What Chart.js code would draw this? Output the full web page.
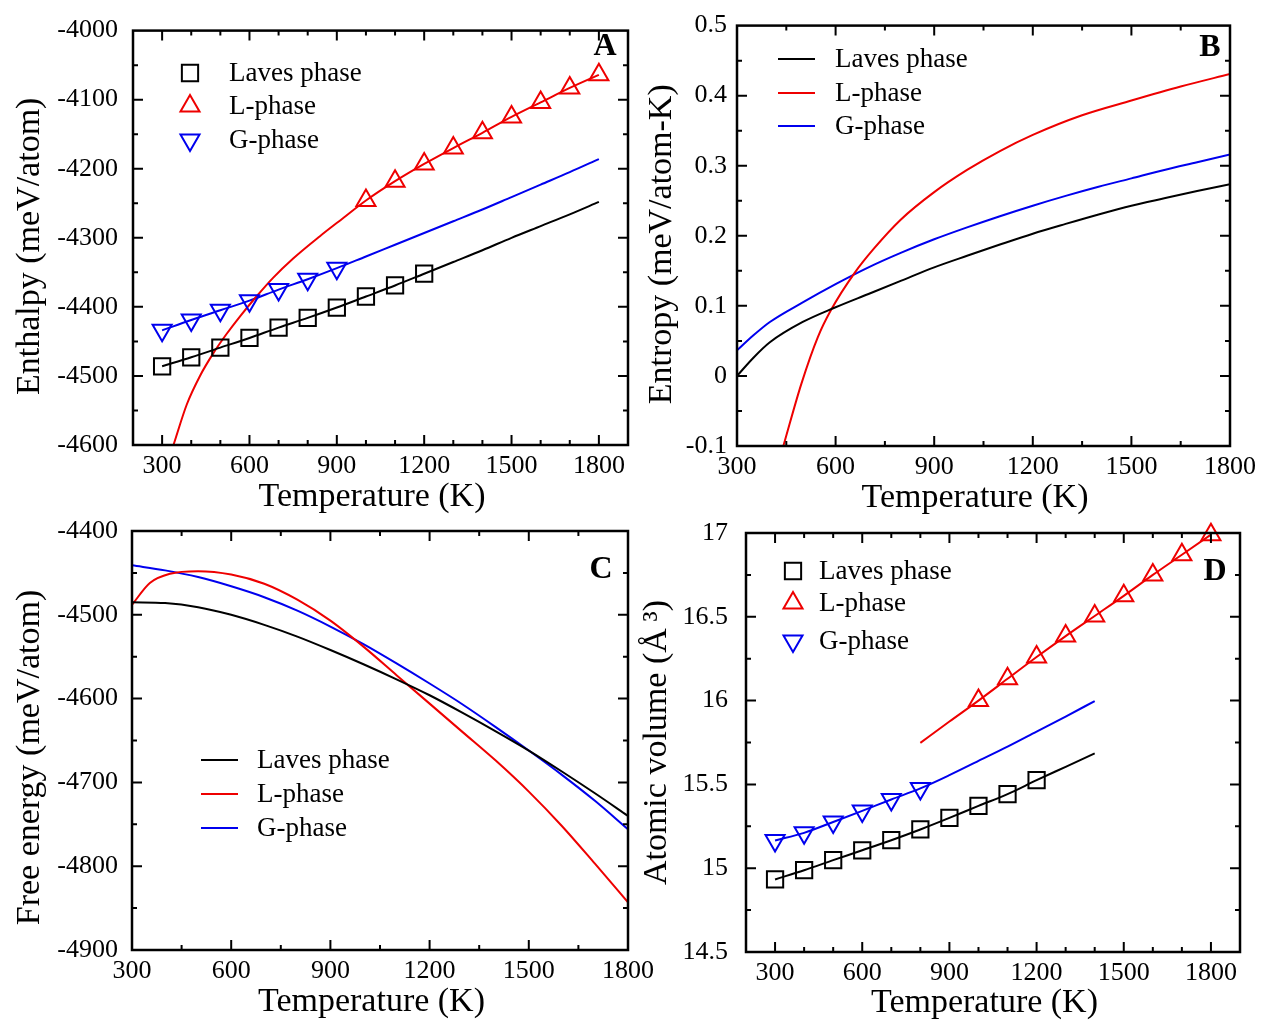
<!DOCTYPE html>
<html>
<head>
<meta charset="utf-8">
<title>Laves / L-phase / G-phase thermodynamics</title>
<script src="https://cdn.jsdelivr.net/npm/chart.js@4.4.1/dist/chart.umd.min.js"></script>
<style>
  body { margin: 0; background: #fff; }
  .panel { position: absolute; left: 0; top: 0; width: 1262px; height: 1023px; }
</style>
</head>
<body>
<div class="panel"><canvas id="chartA"></canvas></div>
<div class="panel"><canvas id="chartB"></canvas></div>
<div class="panel"><canvas id="chartC"></canvas></div>
<div class="panel"><canvas id="chartD"></canvas></div>
<script>
// ---- data ----
const tempsFull = [300, 400, 500, 600, 700, 800, 900, 1000, 1100, 1200, 1300, 1400, 1500, 1600, 1700, 1800];

// A: enthalpy (meV/atom)
const tA_lavesMark = [300, 400, 500, 600, 700, 800, 900, 1000, 1100, 1200];
const hA_lavesMark = [-4486, -4473, -4459, -4445, -4430, -4416, -4401, -4385, -4369, -4352];
const hA_lavesFit = [-4486, -4473, -4459, -4445, -4430, -4416, -4401, -4385, -4369, -4352, -4335, -4318, -4300, -4283, -4266, -4248];
const tA_lMark = [1000, 1100, 1200, 1300, 1400, 1500, 1600, 1700, 1800];
const hA_lMark = [-4246, -4218, -4193, -4170, -4148, -4125, -4104, -4083, -4064];
const tA_lFit = [339, 385, 430, 476, 520, 567, 624, 681, 750, 841, 920, 1000, 1100, 1200, 1300, 1400, 1500, 1600, 1700, 1800];
const hA_lFit = [-4600, -4541, -4500, -4467, -4440, -4414, -4385, -4358, -4330, -4298, -4272, -4246, -4218, -4193, -4170, -4148, -4125, -4104, -4083, -4064];
const tA_gMark = [300, 400, 500, 600, 700, 800, 900];
const hA_gMark = [-4434, -4419, -4405, -4391, -4375, -4360, -4344];
const hA_gFit = [-4434, -4419, -4405, -4391, -4375, -4360, -4344, -4327, -4310, -4293, -4276, -4259, -4241, -4223, -4205, -4186];

// B: entropy (meV/atom-K)
const tB_solid = [300, 350, 400, 500, 600, 700, 800, 900, 1000, 1100, 1200, 1300, 1400, 1500, 1600, 1700, 1800];
const sB_laves = [0.0, 0.026, 0.048, 0.077, 0.098, 0.117, 0.136, 0.155, 0.1715, 0.1875, 0.203, 0.217, 0.2305, 0.243, 0.2535, 0.2638, 0.2735];
const sB_g = [0.0365, 0.058, 0.077, 0.105, 0.131, 0.155, 0.176, 0.195, 0.212, 0.228, 0.243, 0.257, 0.270, 0.282, 0.294, 0.305, 0.316];
const tB_l = [441, 496, 546, 586, 659, 717, 798, 899, 1000, 1100, 1200, 1350, 1500, 1650, 1800];
const sB_l = [-0.1, -0.011, 0.0554, 0.094, 0.1478, 0.182, 0.223, 0.262, 0.294, 0.321, 0.344, 0.372, 0.393, 0.413, 0.431];

// C: free energy (meV/atom)
const gC_laves = [-4485, -4486, -4491, -4500, -4512, -4526, -4542, -4559, -4577, -4596, -4617, -4639, -4662, -4687, -4713, -4740];
const gC_g = [-4441, -4447, -4455, -4466, -4479, -4495, -4514, -4535, -4558, -4582, -4607, -4634, -4662, -4691, -4722, -4756];
const tC_l = [300, 354, 415, 500, 600, 700, 800, 900, 1000, 1100, 1200, 1300, 1400, 1500, 1600, 1700, 1800];
const gC_l = [-4488, -4462, -4451, -4448, -4452, -4463, -4482, -4507, -4538, -4572, -4606, -4640, -4674, -4711, -4752, -4797, -4843];

// D: atomic volume (A^3)
const tD_lavesMark = [300, 400, 500, 600, 700, 800, 900, 1000, 1100, 1200];
const vD_lavesMark = [14.933, 14.988, 15.048, 15.107, 15.167, 15.231, 15.30, 15.372, 15.442, 15.525];
const tD_solidFit = [300, 400, 500, 600, 700, 800, 900, 1000, 1100, 1200, 1300, 1400];
const vD_lavesFit = [14.933, 14.988, 15.048, 15.107, 15.167, 15.231, 15.30, 15.372, 15.442, 15.525, 15.605, 15.685];
const tD_gMark = [300, 400, 500, 600, 700, 800];
const vD_gMark = [15.165, 15.211, 15.276, 15.342, 15.41, 15.476];
const vD_gFit = [15.165, 15.211, 15.276, 15.342, 15.41, 15.476, 15.555, 15.64, 15.725, 15.815, 15.905, 15.997];
const tD_lMark = [1000, 1100, 1200, 1300, 1400, 1500, 1600, 1700, 1800];
const vD_lMark = [16.0, 16.13, 16.26, 16.385, 16.505, 16.625, 16.75, 16.87, 16.99];
const tD_lFit = [800, 900, 1000, 1100, 1200, 1300, 1400, 1500, 1600, 1700, 1800];
const vD_lFit = [15.748, 15.875, 16.0, 16.13, 16.26, 16.385, 16.505, 16.625, 16.75, 16.87, 16.99];

const phaseNames = ["Laves phase", "L-phase", "G-phase"];
const BLACK = "#000000";
const RED = "#ee0000";
const BLUE = "#0000ee";
const SERIF = "'Liberation Serif', 'Times New Roman', serif";

function pts(xs, ys) {
  return xs.map(function (x, i) { return { x: x, y: ys[i] }; });
}

function fitLine(xs, ys, color) {
  return {
    data: pts(xs, ys),
    borderColor: color,
    borderWidth: 2,
    pointRadius: 0,
    showLine: true,
    fill: false,
    cubicInterpolationMode: "monotone"
  };
}

function markers(xs, ys, color, style, rot, label) {
  return {
    label: label,
    inLegend: true,
    data: pts(xs, ys),
    borderColor: color,
    backgroundColor: "rgba(0,0,0,0)",
    borderWidth: 2,
    pointStyle: style,
    rotation: rot,
    pointRadius: style === "rect" ? 11.5 : 11,
    showLine: false,
    clip: false
  };
}

function legendLine(xs, ys, color, label) {
  const ds = fitLine(xs, ys, color);
  ds.label = label;
  ds.inLegend = true;
  return ds;
}

// inward ticks on all four sides, frame, legend and panel letter
const framePlugin = {
  id: "framePlugin",
  afterDraw: function (chart, args, opts) {
    const ctx = chart.ctx;
    const a = chart.chartArea;
    const xs = chart.scales.x;
    const ys = chart.scales.y;
    ctx.save();
    ctx.strokeStyle = "#000";
    ctx.lineWidth = 2;
    ctx.beginPath();
    xs.ticks.forEach(function (t) {
      const p = xs.getPixelForValue(t.value);
      if (p < a.left + 2 || p > a.right - 2) return;
      const len = t.label ? 10 : 5;
      ctx.moveTo(p, a.bottom); ctx.lineTo(p, a.bottom - len);
      ctx.moveTo(p, a.top); ctx.lineTo(p, a.top + len);
    });
    ys.ticks.forEach(function (t) {
      const p = ys.getPixelForValue(t.value);
      if (p < a.top + 2 || p > a.bottom - 2) return;
      const len = t.label ? 10 : 5;
      ctx.moveTo(a.left, p); ctx.lineTo(a.left + len, p);
      ctx.moveTo(a.right, p); ctx.lineTo(a.right - len, p);
    });
    ctx.stroke();
    ctx.lineWidth = 2.5;
    ctx.strokeRect(a.left, a.top, a.right - a.left, a.bottom - a.top);

    // legend
    const items = chart.data.datasets.filter(function (d) { return d.inLegend; });
    ctx.font = "27px " + SERIF;
    ctx.textBaseline = "middle";
    ctx.textAlign = "left";
    items.forEach(function (d, i) {
      const y = opts.rows[i];
      ctx.strokeStyle = d.borderColor;
      ctx.lineWidth = 2;
      if (opts.kind === "line") {
        ctx.beginPath();
        ctx.moveTo(opts.x0, y);
        ctx.lineTo(opts.x1, y);
        ctx.stroke();
      } else {
        ctx.fillStyle = "rgba(0,0,0,0)";
        Chart.helpers.drawPoint(ctx, {
          pointStyle: d.pointStyle,
          rotation: d.rotation || 0,
          radius: d.pointRadius,
          borderWidth: 2
        }, opts.x0, y);
      }
      ctx.fillStyle = "#000";
      ctx.fillText(d.label, opts.textX, y + 1);
    });

    ctx.font = "bold 32px " + SERIF;
    ctx.textAlign = "center";
    ctx.fillStyle = "#000";
    ctx.fillText(opts.letter, opts.letterX, opts.letterY);
    ctx.restore();
  }
};

function nearMultiple(v, step) {
  const r = v / step;
  return Math.abs(r - Math.round(r)) < 1e-6;
}

function makePanel(id, cfg) {
  return new Chart(document.getElementById(id), {
    type: "scatter",
    data: { datasets: cfg.datasets },
    options: {
      responsive: true,
      maintainAspectRatio: false,
      animation: false,
      events: [],
      layout: { padding: cfg.pad },
      plugins: {
        legend: { display: false },
        tooltip: { enabled: false },
        framePlugin: cfg.legend
      },
      scales: {
        x: {
          type: "linear",
          min: cfg.xMin,
          max: cfg.xMax,
          grid: { display: false, drawTicks: false },
          border: { display: false },
          afterFit: function (s) { s.height = cfg.xHeight; },
          ticks: {
            stepSize: cfg.xStep,
            autoSkip: false,
            maxRotation: 0,
            minRotation: 0,
            padding: 6,
            color: "#000",
            font: { family: SERIF, size: 26 },
            callback: function (v) { return nearMultiple(v, 300) ? String(v) : ""; }
          },
          title: {
            display: true,
            text: "Temperature (K)  ",
            color: "#000",
            padding: 0,
            font: { family: SERIF, size: 34, lineHeight: 1.2 }
          }
        },
        y: {
          type: "linear",
          min: cfg.yMin,
          max: cfg.yMax,
          grid: { display: false, drawTicks: false },
          border: { display: false },
          afterFit: function (s) { s.width = cfg.yWidth; },
          ticks: {
            stepSize: cfg.yStep,
            autoSkip: false,
            padding: cfg.yPad,
            color: "#000",
            font: { family: SERIF, size: 26 },
            callback: function (v) {
              if (!nearMultiple(v, cfg.yLabelStep)) return "";
              return String(Math.round(v * 100) / 100);
            }
          },
          title: {
            display: true,
            text: cfg.yTitle,
            color: "#000",
            padding: 0,
            font: { family: SERIF, size: 34, lineHeight: 1.2 }
          }
        }
      }
    },
    plugins: [framePlugin]
  });
}

makePanel("chartA", {
  pad: { left: 10, top: 24, right: 634, bottom: 506 },
  xMin: 200, xMax: 1900, xStep: 100, xHeight: 72,
  yMin: -4600, yMax: -4000, yStep: 50, yLabelStep: 100, yWidth: 123, yPad: 15,
  yTitle: "Enthalpy (meV/atom)  ",
  legend: { kind: "marker", x0: 190, textX: 229, rows: [73, 106, 140], letter: "A", letterX: 605, letterY: 47 },
  datasets: [
    markers(tA_lavesMark, hA_lavesMark, BLACK, "rect", 0, phaseNames[0]),
    markers(tA_lMark, hA_lMark, RED, "triangle", 0, phaseNames[1]),
    markers(tA_gMark, hA_gMark, BLUE, "triangle", 180, phaseNames[2]),
    fitLine(tempsFull, hA_lavesFit, BLACK),
    fitLine(tA_lFit, hA_lFit, RED),
    fitLine(tempsFull, hA_gFit, BLUE)
  ]
});

makePanel("chartB", {
  pad: { left: 642, top: 24, right: 29, bottom: 505 },
  xMin: 300, xMax: 1800, xStep: 150, xHeight: 72,
  yMin: -0.1, yMax: 0.5, yStep: 0.05, yLabelStep: 0.1, yWidth: 95, yPad: 10,
  yTitle: "Entropy (meV/atom-K)  ",
  legend: { kind: "line", x0: 778, x1: 815, textX: 835, rows: [59, 93, 126], letter: "B", letterX: 1210, letterY: 48 },
  datasets: [
    legendLine(tB_solid, sB_laves, BLACK, phaseNames[0]),
    legendLine(tB_l, sB_l, RED, phaseNames[1]),
    legendLine(tB_solid, sB_g, BLUE, phaseNames[2])
  ]
});

makePanel("chartC", {
  pad: { left: 10, top: 531, right: 634, bottom: 1 },
  xMin: 300, xMax: 1800, xStep: 150, xHeight: 72,
  yMin: -4900, yMax: -4400, yStep: 50, yLabelStep: 100, yWidth: 122, yPad: 14,
  yTitle: "Free energy (meV/atom)    ",
  legend: { kind: "line", x0: 201, x1: 238, textX: 257, rows: [760, 794, 828], letter: "C", letterX: 601, letterY: 570 },
  datasets: [
    legendLine(tempsFull, gC_laves, BLACK, phaseNames[0]),
    legendLine(tC_l, gC_l, RED, phaseNames[1]),
    legendLine(tempsFull, gC_g, BLUE, phaseNames[2])
  ]
});

makePanel("chartD", {
  pad: { left: 637, top: 533, right: 22, bottom: 0 },
  xMin: 200, xMax: 1900, xStep: 100, xHeight: 71,
  yMin: 14.5, yMax: 17, yStep: 0.25, yLabelStep: 0.5, yWidth: 109, yPad: 18,
  yTitle: "Atomic volume (\u00C5\u2009\u00B3)",
  legend: { kind: "marker", x0: 793, textX: 819, rows: [571, 603, 641], letter: "D", letterX: 1215, letterY: 572 },
  datasets: [
    markers(tD_lavesMark, vD_lavesMark, BLACK, "rect", 0, phaseNames[0]),
    markers(tD_lMark, vD_lMark, RED, "triangle", 0, phaseNames[1]),
    markers(tD_gMark, vD_gMark, BLUE, "triangle", 180, phaseNames[2]),
    fitLine(tD_solidFit, vD_lavesFit, BLACK),
    fitLine(tD_lFit, vD_lFit, RED),
    fitLine(tD_solidFit, vD_gFit, BLUE)
  ]
});
</script>
</body>
</html>
